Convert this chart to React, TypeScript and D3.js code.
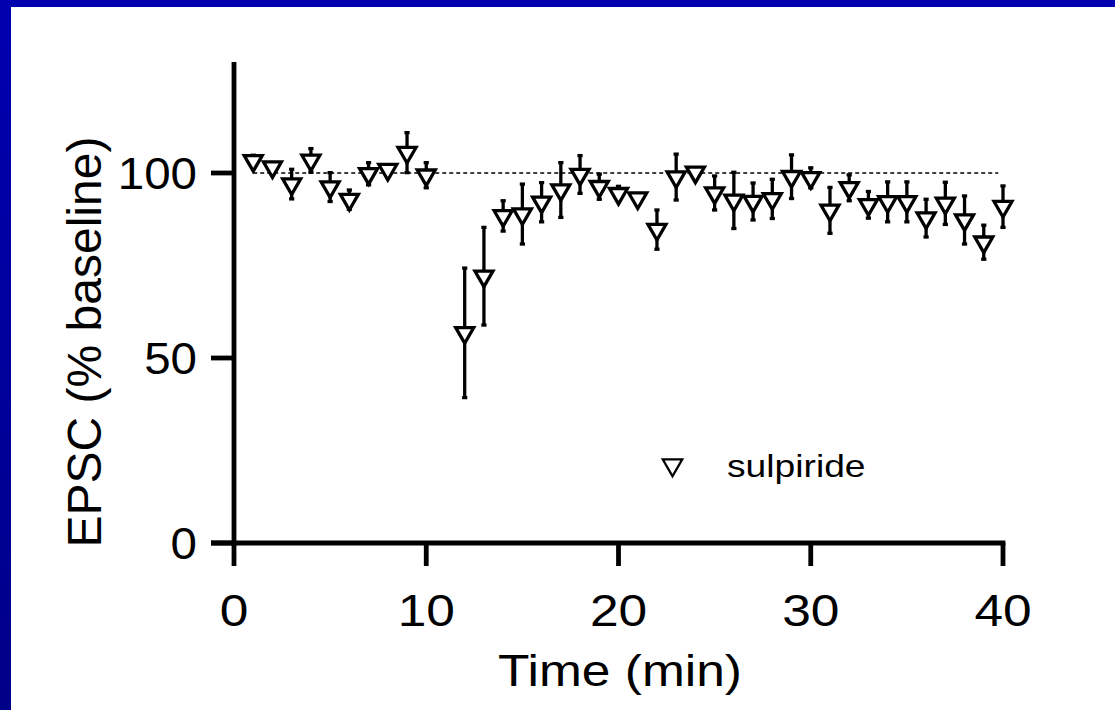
import React from "react";
import * as d3 from "d3";

// Time points (min) – no sample at minute 11
const times = [1, 2, 3, 4, 5, 6, 7, 8, 9, 10, 12, 13, 14, 15, 16, 17, 18, 19, 20, 21, 22, 23, 24, 25, 26, 27, 28, 29, 30, 31, 32, 33, 34, 35, 36, 37, 38, 39, 40];
// EPSC amplitude, % of baseline (mean)
const means = [103.3, 101.6, 97, 103.4, 96.2, 92.8, 99.8, 100.9, 105.5, 99.4, 56.8, 72.1, 88.4, 88.9, 92.1, 95.4, 99.6, 96.3, 94.4, 93.2, 84.7, 98.9, 100.2, 94.6, 92.6, 92.3, 93.0, 99.0, 98.7, 89.9, 96.0, 91.4, 92.2, 92.2, 87.8, 91.8, 87.3, 81.3, 90.9];
// Standard error of the mean
const sems = [1.5, 1, 4, 3.2, 3.9, 2.6, 3, 0.5, 5.4, 3.4, 17.5, 13.2, 4.1, 8.1, 5.3, 7.4, 5.1, 3.4, 2, 1, 5.3, 6.2, 0.8, 4.6, 7.6, 5, 5.3, 5.9, 2.7, 6.2, 3.5, 3.6, 5.4, 5.4, 5.1, 5.7, 6.5, 4.6, 5.6];

const xTicks = [0, 10, 20, 30, 40];
const yTicks = [0, 50, 100];
const seriesName = "sulpiride";
const baselineLevel = 100;

const W = 1115;
const H = 710;
const FONT = "'Liberation Sans', Arial, Helvetica, sans-serif";
const STRETCH = 1.17;

const x = d3.scaleLinear().domain([0, 40]).range([234, 1003]);
const y = d3.scaleLinear().domain([0, 130]).range([543, 62]);

// Downward-pointing equilateral triangle centred on its centroid
function triangle(side: number): string {
  const h = (side * Math.sqrt(3)) / 2;
  const p = d3.path();
  p.moveTo(-side / 2, -h / 3);
  p.lineTo(side / 2, -h / 3);
  p.lineTo(0, (2 * h) / 3);
  p.closePath();
  return p.toString();
}

export default function App() {
  const tri = triangle(18);
  const legendTri = triangle(19.5);
  const axisW = 4.8;
  const tickLen = 23;
  const cap = 2.6;

  return (
    <svg
      width={W}
      height={H}
      style={{ position: "absolute", left: 0, top: 0, display: "block" }}
      fontFamily={FONT}
    >
      <defs>
        <linearGradient id="frame" x1="0" y1="0" x2="0" y2="1">
          <stop offset="0" stopColor="#0000b0" />
          <stop offset="1" stopColor="#000088" />
        </linearGradient>
      </defs>
      <rect x={0} y={0} width={W} height={H} fill="url(#frame)" />
      <rect x={11} y={7} width={W - 11} height={H - 7} fill="#ffffff" />

      {/* baseline reference */}
      <line
        x1={x(1)}
        x2={x(39.75)}
        y1={y(baselineLevel)}
        y2={y(baselineLevel)}
        stroke="#000"
        strokeWidth={1.5}
        strokeDasharray="4 3"
      />

      {/* axes */}
      <line x1={x(0)} x2={x(0)} y1={y(130)} y2={y(0) + axisW / 2} stroke="#000" strokeWidth={axisW} />
      <line x1={x(0) - tickLen} x2={x(40) + axisW / 2} y1={y(0)} y2={y(0)} stroke="#000" strokeWidth={axisW} />
      {yTicks.map((t) => (
        <g key={"yt" + t}>
          <line x1={x(0) - tickLen} x2={x(0)} y1={y(t)} y2={y(t)} stroke="#000" strokeWidth={axisW} />
          <text
            transform={`translate(${x(0) - 37},${y(t) + 16}) scale(1.08,1)`}
            textAnchor="end"
            fontSize={44}
            fill="#000"
          >
            {t}
          </text>
        </g>
      ))}
      {xTicks.map((t) => (
        <g key={"xt" + t}>
          <line x1={x(t)} x2={x(t)} y1={y(0)} y2={y(0) + tickLen} stroke="#000" strokeWidth={axisW} />
          <text
            transform={`translate(${x(t)},${626}) scale(${STRETCH},1)`}
            textAnchor="middle"
            fontSize={44}
            fill="#000"
          >
            {t}
          </text>
        </g>
      ))}

      <text
        transform={`translate(620,686) scale(${STRETCH},1)`}
        textAnchor="middle"
        fontSize={44}
        fill="#000"
      >
        Time (min)
      </text>
      <text
        transform={`translate(101,342) rotate(-90)`}
        textAnchor="middle"
        fontSize={48}
        fill="#000"
      >
        EPSC (% baseline)
      </text>

      {/* error bars */}
      {times.map((t, i) => {
        const cx = x(t);
        const top = y(means[i] + sems[i]);
        const bot = y(means[i] - sems[i]);
        return (
          <g key={"e" + t} stroke="#000" strokeWidth={3.3}>
            <line x1={cx} x2={cx} y1={top} y2={bot} />
            <line x1={cx - cap} x2={cx + cap} y1={top} y2={top} />
            <line x1={cx - cap} x2={cx + cap} y1={bot} y2={bot} />
          </g>
        );
      })}

      {/* markers */}
      {times.map((t, i) => (
        <path
          key={"m" + t}
          d={tri}
          transform={`translate(${x(t)},${y(means[i])})`}
          fill="#fff"
          stroke="#000"
          strokeWidth={3.3}
          strokeLinejoin="miter"
        />
      ))}

      {/* legend */}
      <path d={legendTri} transform="translate(672.5,465)" fill="#fff" stroke="#000" strokeWidth={2.3} />
      <text
        transform={`translate(727,477) scale(1.2,1)`}
        fontSize={31}
        fill="#000"
      >
        {seriesName}
      </text>
    </svg>
  );
}
